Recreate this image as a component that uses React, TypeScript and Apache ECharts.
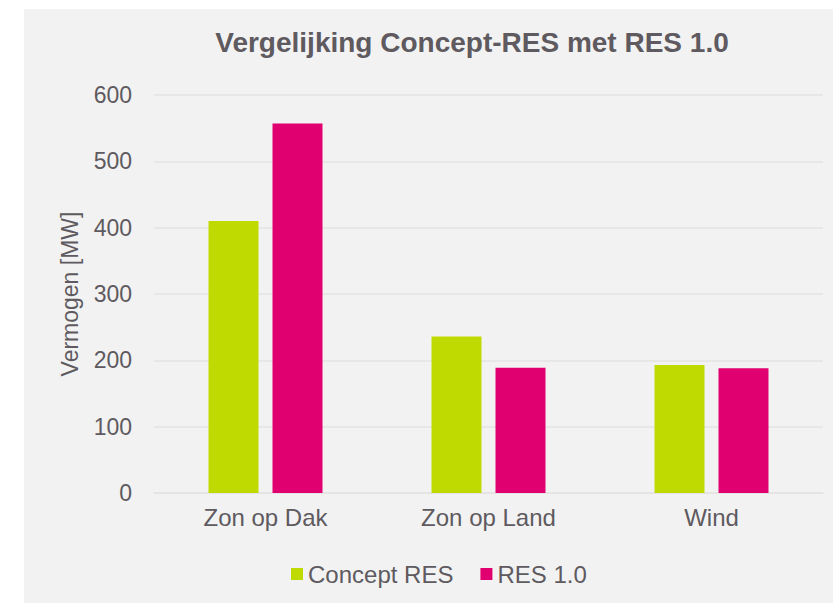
import React, { useEffect, useRef } from "react";
import * as echarts from "echarts";

const categories = ["Zon op Dak", "Zon op Land", "Wind"];
const conceptRes = [410, 236, 193];
const res10 = [557, 189, 188];
const seriesNames = ["Concept RES", "RES 1.0"];
const yTicks = { min: 0, max: 600, interval: 100 };

const TEXT = "#5e5a5f";
const FONT = "'Liberation Sans', Arial, sans-serif";

export default function App() {
  const ref = useRef<HTMLDivElement>(null);
  useEffect(() => {
    if (!ref.current) return;
    const chart = echarts.init(ref.current, undefined, { renderer: "svg" });
    chart.setOption({
      animation: false,
      backgroundColor: "#ffffff",
      textStyle: { fontFamily: FONT },
      graphic: [
        {
          type: "rect",
          z: -10,
          silent: true,
          shape: { x: 24, y: 9, width: 809, height: 594 },
          style: { fill: "#f2f2f2" },
        },
      ],
      title: {
        text: "Vergelijking Concept-RES met RES 1.0",
        left: 472,
        textAlign: "center",
        top: 28,
        padding: 0,
        textStyle: { fontFamily: FONT, fontSize: 28, fontWeight: "bold", color: TEXT },
      },
      legend: {
        data: seriesNames,
        left: 291,
        top: 562,
        padding: 0,
        itemWidth: 12,
        itemHeight: 12,
        itemGap: 27,
        icon: "rect",
        textStyle: { fontFamily: FONT, fontSize: 24, color: TEXT },
      },
      grid: { left: 154, right: 10, top: 95, bottom: 110, containLabel: false },
      xAxis: {
        type: "category",
        data: categories,
        axisLine: { show: true, lineStyle: { color: "#e3e3e3", width: 1.5 } },
        axisTick: { show: false },
        axisLabel: { fontFamily: FONT, fontSize: 24, color: TEXT, margin: 12 },
      },
      yAxis: {
        type: "value",
        min: yTicks.min,
        max: yTicks.max,
        interval: yTicks.interval,
        name: "Vermogen [MW]",
        nameLocation: "middle",
        nameGap: 73,
        nameTextStyle: { fontFamily: FONT, fontSize: 23, color: TEXT },
        axisLine: { show: false },
        axisTick: { show: false },
        axisLabel: { fontFamily: FONT, fontSize: 23, color: TEXT, margin: 22 },
        splitLine: { lineStyle: { color: "#e3e3e3", width: 1.5 } },
      },
      series: [
        {
          name: seriesNames[0],
          type: "bar",
          data: conceptRes,
          barWidth: 50,
          barGap: "28%",
          itemStyle: { color: "#bfda00" },
        },
        {
          name: seriesNames[1],
          type: "bar",
          data: res10,
          barWidth: 50,
          itemStyle: { color: "#e0006f" },
        },
      ],
    });
    return () => chart.dispose();
  }, []);
  return (
    <div
      ref={ref}
      style={{ position: "absolute", left: 0, top: 0, width: 833, height: 603 }}
    />
  );
}
